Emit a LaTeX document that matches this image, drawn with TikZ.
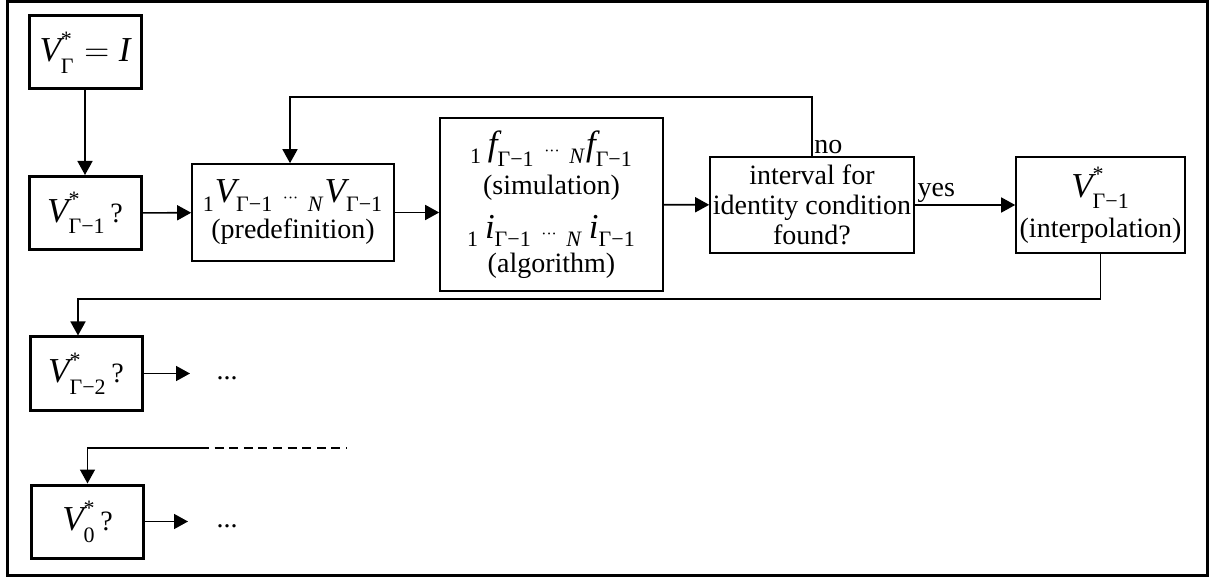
\documentclass[tikz,border=0pt]{standalone}
\usepackage{fontspec}
\setmainfont{Liberation Serif}
\usepackage{amsmath}
\usetikzlibrary{shapes,arrows.meta}
\newcommand{\mth}[1]{{\fontsize{17.5}{18}\selectfont$#1$}}
\newcommand{\lo}[1]{\raisebox{-1.5pt}{\fontsize{11}{11}\selectfont #1}}
\newcommand{\hi}{\raisebox{1pt}{\fontsize{11}{11}\selectfont *}}
\newcommand{\gmo}{\lo{Γ−1}}
\newcommand{\dts}{\;{\scriptscriptstyle\cdots}\;}

\begin{document}
\begin{tikzpicture}[x=0.5pt, y=-0.5pt, font=\fontsize{14}{15}\selectfont]

\tikzstyle{query} = [rectangle, draw, line width=1.5pt, minimum width=56pt,
minimum height=36.5pt, inner sep=1pt]
\tikzstyle{stage} = [rectangle, draw, line width=0.8pt, align=center, inner sep=1pt]
\tikzstyle{line} = [draw, line width=0.8pt, -{Triangle[length=7pt, width=7.5pt]}]

\useasboundingbox (0,0) rectangle (1216,577);
\draw [line width=1.5pt] (7,2) rectangle (1207,575);

\node [query] (vgam) at (85,52.5) {\mth{\textit{V}^{\hi}_{\lo{Γ}}=\textit{I}}};
\node [query] (vq1) at (85,213) {\mth{\textit{V}^{\hi}_{\gmo}}\,?};
\node [query] (vq2) at (86,373.5) {\mth{\textit{V}^{\hi}_{\lo{Γ−2}}}\,?};
\node [query] (vq0) at (87.5,521.5) {\mth{\textit{V}^{\hi}_{\lo{0}}}\,?};

\node [stage, minimum width=101pt, minimum height=48.5pt] (pre) at (293,212.5)
{\mth{{}_{\lo{1}}\textit{V}_{\gmo}\dts{}_{\lo{\textit{N}}}\textit{V}_{\gmo}}\\[3pt](predefinition)};
\node [stage, minimum width=111.5pt, minimum height=86.5pt] (sim) at (551.5,204.5)
{\mth{{}_{\lo{1}}\,\textit{f}_{\gmo}\dts{}_{\lo{\textit{N}}}\textit{f}_{\gmo}}\\[3pt](simulation)\\[7pt]
\mth{{}_{\lo{1}}\,\textit{i}_{\gmo}\dts{}_{\lo{\textit{N}}}\,\textit{i}_{\gmo}}\\[2pt](algorithm)};
\node [stage, minimum width=102pt, minimum height=48pt] (dec) at (812,205)
{interval for\\identity condition\\found?};
\node [stage, minimum width=84.5pt, minimum height=48pt] (interp) at (1100.5,205)
{\mth{\textit{V}^{\hi}_{\gmo}}\\[3.5pt](interpolation)};

\node (more2) at (227,378) {...};
\node (more0) at (227,526) {...};
\node [anchor=south west, inner sep=1pt] (nolbl) at (dec.north) {no};

\coordinate (loop) at (290,97);
\coordinate (back) at (78,299);
\coordinate (to2) at (190,373.5);
\coordinate (to0) at (188,521.5);
\coordinate (gap) at (200,448);
\coordinate (gapend) at (347,448);

\path [line] (vgam) -- (vq1);
\path [line] (vq1) -- (pre);
\path [line] (pre.east) -- (pre.east -| sim.west);
\path [line] (sim) -- (dec);
\path [line] (dec) -- node [anchor=south west, pos=0, inner sep=1pt] (yeslbl) {yes} (interp);
\path [line] (dec.north) |- (loop) -- (loop |- pre.north);
\path [line] (interp.south) |- (back) -- (back |- vq2.north);
\path [line] (vq2) -- (to2);
\draw [line width=0.8pt, dash pattern=on 4.5pt off 2.8pt] (gap) -- (gapend);
\path [line] (gap) -| (vq0.north);
\path [line] (vq0) -- (to0);
\end{tikzpicture}
\end{document}
